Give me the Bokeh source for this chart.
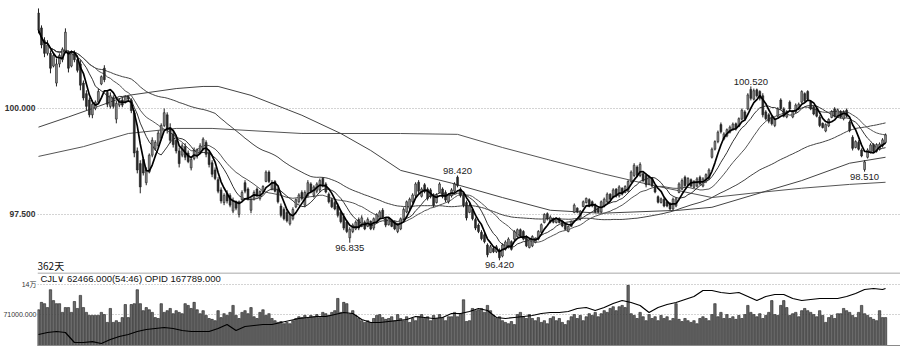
import numpy as np
import pandas as pd
from bokeh.plotting import figure
from bokeh.layouts import column
from bokeh.models import Range1d, FixedTicker, Span, PrintfTickFormatter
from bokeh.embed import file_html
from bokeh.resources import INLINE
from bokeh.core.properties import value

# ---------------- data ----------------
high = [
    102.36, 101.96, 101.68, 101.61, 101.37, 101.30, 101.18, 101.30, 101.44, 101.89,
    101.37, 101.37, 101.37, 101.25, 101.14, 100.66, 100.43, 100.26, 100.19, 100.19,
    100.47, 100.78, 101.02, 100.43, 100.38, 100.31, 100.19, 100.24, 100.26, 100.31,
    100.31, 100.24, 99.96, 99.08, 98.78, 98.85, 98.61, 98.94, 99.32, 99.25,
    99.48, 99.65, 100.00, 99.91, 99.65, 99.48, 99.32, 99.08, 99.18, 99.18,
    99.01, 98.85, 99.08, 99.06, 99.18, 99.32, 99.25, 99.01, 98.78, 98.61,
    98.38, 98.14, 98.00, 98.07, 98.00, 97.90, 97.83, 97.83, 98.07, 98.31,
    98.14, 97.90, 98.07, 98.14, 98.07, 98.19, 98.54, 98.54, 98.31, 98.31,
    98.14, 97.76, 97.67, 97.60, 97.53, 97.67, 97.88, 98.00, 98.07, 98.07,
    98.31, 98.26, 98.19, 98.26, 98.35, 98.38, 98.26, 98.02, 97.90, 97.83,
    97.76, 97.60, 97.53, 97.36, 97.20, 97.29, 97.36, 97.43, 97.48, 97.36,
    97.43, 97.36, 97.43, 97.53, 97.60, 97.65, 97.43, 97.43, 97.36, 97.36,
    97.29, 97.43, 97.67, 97.83, 97.90, 98.00, 98.26, 98.31, 98.14, 98.24,
    98.14, 98.12, 98.00, 98.00, 98.26, 98.14, 98.07, 98.00, 98.12, 98.26,
    98.42, 98.14, 98.00, 97.83, 97.76, 97.67, 97.43, 97.29, 97.13, 97.06,
    96.82, 96.78, 96.73, 96.78, 96.70, 96.82, 96.89, 96.96, 96.89, 97.13,
    97.17, 97.17, 97.13, 97.01, 96.94, 97.01, 96.96, 97.13, 97.29, 97.53,
    97.55, 97.48, 97.43, 97.43, 97.43, 97.36, 97.29, 97.24, 97.36, 97.76,
    97.67, 97.60, 97.83, 97.90, 97.88, 97.83, 97.76, 97.67, 97.83, 97.90,
    98.02, 98.00, 98.12, 98.12, 98.19, 98.14, 98.19, 98.31, 98.54, 98.71,
    98.66, 98.73, 98.50, 98.47, 98.42, 98.38, 98.19, 97.95, 97.90, 97.90,
    97.83, 97.79, 97.90, 97.90, 98.26, 98.35, 98.42, 98.38, 98.35, 98.31,
    98.38, 98.42, 98.38, 98.47, 98.59, 99.08, 99.25, 99.48, 99.67, 99.44,
    99.53, 99.60, 99.67, 99.67, 99.79, 100.00, 99.96, 100.36, 100.52, 100.47,
    100.47, 100.43, 100.36, 99.96, 99.89, 99.84, 99.79, 100.03, 100.24, 100.03,
    99.96, 100.19, 99.96, 100.12, 100.14, 100.43, 100.38, 100.43, 100.19, 100.07,
    100.03, 99.84, 99.67, 99.65, 99.77, 99.96, 100.03, 100.00, 99.96, 99.96,
    100.00, 99.72, 99.37, 99.25, 99.25, 99.06, 98.78, 99.06, 99.18, 99.18,
    99.18, 99.20, 99.30, 99.41,
]
low = [
    101.77, 101.42, 101.21, 101.25, 100.83, 100.97, 100.52, 100.97, 101.09, 101.30,
    100.85, 100.97, 101.09, 100.85, 100.43, 100.19, 99.96, 99.79, 99.77, 99.96,
    100.12, 100.55, 100.62, 100.03, 100.00, 100.00, 99.65, 100.03, 100.03, 100.12,
    100.19, 99.89, 98.85, 98.47, 98.00, 98.42, 98.19, 98.47, 98.85, 99.01,
    99.08, 99.25, 99.56, 99.41, 99.18, 99.08, 98.94, 98.61, 98.85, 98.78,
    98.71, 98.54, 98.78, 98.82, 98.94, 99.01, 98.85, 98.61, 98.38, 98.31,
    98.00, 97.76, 97.72, 97.76, 97.67, 97.53, 97.60, 97.43, 97.83, 98.00,
    97.83, 97.53, 97.83, 97.90, 97.83, 98.00, 98.26, 98.24, 98.07, 98.02,
    97.76, 97.43, 97.36, 97.31, 97.24, 97.36, 97.65, 97.76, 97.83, 97.67,
    97.90, 98.00, 97.90, 98.00, 98.02, 98.14, 98.00, 97.76, 97.65, 97.60,
    97.43, 97.29, 97.13, 97.06, 96.835, 97.06, 97.13, 97.13, 97.20, 97.13,
    97.20, 97.13, 97.13, 97.29, 97.36, 97.41, 97.20, 97.24, 97.20, 97.13,
    97.06, 97.13, 97.36, 97.53, 97.60, 97.76, 97.90, 98.00, 97.90, 98.00,
    97.83, 97.88, 97.67, 97.76, 98.00, 97.88, 97.79, 97.76, 97.90, 98.02,
    98.14, 97.90, 97.67, 97.36, 97.53, 97.36, 97.13, 97.06, 96.89, 96.82,
    96.49, 96.59, 96.59, 96.59, 96.42, 96.49, 96.65, 96.70, 96.65, 96.89,
    96.96, 96.96, 96.89, 96.73, 96.70, 96.73, 96.82, 96.89, 97.06, 97.29,
    97.36, 97.29, 97.29, 97.29, 97.29, 97.20, 97.13, 97.08, 97.20, 97.53,
    97.53, 97.36, 97.67, 97.76, 97.67, 97.67, 97.53, 97.53, 97.53, 97.67,
    97.76, 97.83, 97.88, 97.90, 97.90, 97.95, 98.00, 98.02, 98.24, 98.38,
    98.38, 98.38, 98.26, 98.14, 98.19, 98.14, 98.00, 97.76, 97.76, 97.67,
    97.67, 97.60, 97.60, 97.67, 98.00, 98.07, 98.14, 98.19, 98.14, 98.12,
    98.14, 98.19, 98.14, 98.24, 98.31, 98.82, 99.01, 99.18, 99.41, 99.25,
    99.32, 99.41, 99.48, 99.48, 99.56, 99.72, 99.72, 99.96, 100.19, 100.19,
    100.26, 100.19, 99.79, 99.72, 99.65, 99.60, 99.56, 99.79, 99.96, 99.79,
    99.77, 99.96, 99.77, 99.89, 99.96, 100.12, 100.14, 100.19, 99.96, 99.84,
    99.79, 99.56, 99.53, 99.44, 99.56, 99.77, 99.79, 99.79, 99.77, 99.72,
    99.79, 99.44, 99.01, 99.06, 99.01, 98.85, 98.51, 98.82, 98.94, 98.96,
    98.96, 99.01, 99.08, 99.18,
]
open_ = [
    102.25, 101.90, 101.60, 101.30, 101.30, 101.00, 100.60, 101.05, 101.15, 101.35,
    101.30, 101.00, 101.30, 101.15, 101.05, 100.60, 100.35, 100.20, 99.85, 100.00,
    100.15, 100.58, 100.95, 100.38, 100.05, 100.25, 99.75, 100.08, 100.20, 100.15,
    100.28, 100.20, 99.90, 99.00, 98.70, 98.80, 98.25, 98.50, 98.90, 99.05,
    99.12, 99.30, 99.60, 99.85, 99.55, 99.40, 99.25, 99.00, 98.90, 99.10,
    98.95, 98.60, 98.82, 98.88, 98.98, 99.05, 99.20, 98.95, 98.72, 98.55,
    98.32, 98.08, 97.78, 98.00, 97.95, 97.58, 97.80, 97.50, 97.85, 98.25,
    98.10, 97.60, 97.86, 98.10, 97.88, 98.03, 98.28, 98.50, 98.10, 98.28,
    98.08, 97.70, 97.62, 97.55, 97.28, 97.40, 97.68, 97.80, 98.02, 97.72,
    97.95, 98.22, 97.95, 98.05, 98.08, 98.35, 98.22, 97.98, 97.85, 97.78,
    97.70, 97.55, 97.45, 97.32, 96.95, 97.10, 97.16, 97.38, 97.22, 97.32,
    97.22, 97.34, 97.18, 97.32, 97.40, 97.60, 97.40, 97.26, 97.34, 97.32,
    97.10, 97.16, 97.40, 97.56, 97.65, 97.80, 97.95, 98.26, 97.93, 98.20,
    98.10, 98.08, 97.95, 97.78, 98.02, 98.10, 98.02, 97.80, 97.94, 98.05,
    98.38, 98.10, 97.96, 97.78, 97.55, 97.62, 97.38, 97.25, 97.08, 97.02,
    96.78, 96.60, 96.70, 96.62, 96.66, 96.52, 96.68, 96.72, 96.86, 96.92,
    96.98, 97.14, 97.10, 96.98, 96.72, 96.76, 96.84, 96.92, 97.08, 97.31,
    97.52, 97.32, 97.40, 97.31, 97.41, 97.34, 97.27, 97.10, 97.22, 97.55,
    97.65, 97.40, 97.69, 97.78, 97.85, 97.80, 97.72, 97.65, 97.56, 97.70,
    97.80, 97.98, 97.90, 98.10, 97.94, 98.12, 98.02, 98.05, 98.28, 98.42,
    98.62, 98.42, 98.46, 98.42, 98.22, 98.35, 98.16, 97.92, 97.78, 97.86,
    97.80, 97.76, 97.63, 97.70, 98.02, 98.10, 98.38, 98.21, 98.32, 98.14,
    98.17, 98.38, 98.17, 98.27, 98.34, 98.85, 99.04, 99.22, 99.62, 99.28,
    99.35, 99.44, 99.50, 99.64, 99.58, 99.75, 99.92, 99.99, 100.45, 100.22,
    100.44, 100.40, 100.30, 99.92, 99.85, 99.80, 99.60, 99.82, 100.20, 99.99,
    99.80, 100.15, 99.80, 99.92, 99.99, 100.15, 100.35, 100.40, 100.16, 100.04,
    100.00, 99.80, 99.65, 99.47, 99.59, 99.79, 99.99, 99.82, 99.93, 99.76,
    99.96, 99.68, 99.32, 99.08, 99.20, 99.02, 98.56, 98.85, 98.97, 99.15,
    98.99, 99.04, 99.12, 99.20,
]
close = [
    101.85, 101.50, 101.30, 101.50, 100.95, 101.25, 101.05, 101.25, 101.40, 101.80,
    100.95, 101.30, 101.15, 100.90, 100.55, 100.25, 100.05, 99.85, 100.10, 100.15,
    100.40, 100.75, 100.68, 100.10, 100.30, 100.05, 100.12, 100.20, 100.08, 100.28,
    100.22, 99.95, 98.95, 98.55, 98.15, 98.48, 98.55, 98.90, 99.25, 99.20,
    99.42, 99.60, 99.90, 99.50, 99.25, 99.15, 99.00, 98.70, 99.12, 98.85,
    98.75, 98.80, 99.00, 99.02, 99.12, 99.28, 98.92, 98.68, 98.45, 98.35,
    98.05, 97.82, 97.95, 97.82, 97.72, 97.82, 97.65, 97.80, 98.02, 98.05,
    97.88, 97.85, 98.02, 97.95, 98.04, 98.16, 98.50, 98.28, 98.25, 98.05,
    97.80, 97.48, 97.40, 97.35, 97.50, 97.62, 97.85, 97.96, 97.88, 98.02,
    98.25, 98.05, 98.15, 98.22, 98.30, 98.18, 98.03, 97.80, 97.68, 97.63,
    97.48, 97.33, 97.18, 97.10, 97.15, 97.25, 97.32, 97.18, 97.42, 97.16,
    97.38, 97.16, 97.40, 97.50, 97.56, 97.44, 97.25, 97.40, 97.22, 97.16,
    97.25, 97.40, 97.62, 97.80, 97.86, 97.96, 98.22, 98.05, 98.10, 98.04,
    97.88, 97.92, 97.72, 97.96, 98.22, 97.92, 97.84, 97.96, 98.08, 98.22,
    98.18, 97.94, 97.72, 97.42, 97.70, 97.40, 97.18, 97.10, 96.93, 96.86,
    96.55, 96.74, 96.62, 96.74, 96.48, 96.78, 96.85, 96.92, 96.68, 97.10,
    97.14, 96.99, 96.92, 96.76, 96.90, 96.98, 96.94, 97.10, 97.26, 97.50,
    97.40, 97.44, 97.32, 97.41, 97.31, 97.23, 97.15, 97.22, 97.34, 97.72,
    97.56, 97.58, 97.80, 97.88, 97.70, 97.70, 97.56, 97.56, 97.80, 97.86,
    97.98, 97.86, 98.08, 97.94, 98.15, 97.98, 98.16, 98.28, 98.50, 98.66,
    98.42, 98.68, 98.30, 98.20, 98.38, 98.17, 98.03, 97.79, 97.87, 97.70,
    97.70, 97.63, 97.86, 97.87, 98.22, 98.30, 98.18, 98.35, 98.17, 98.28,
    98.34, 98.22, 98.34, 98.44, 98.55, 99.04, 99.22, 99.44, 99.45, 99.40,
    99.50, 99.56, 99.63, 99.52, 99.76, 99.96, 99.76, 100.32, 100.24, 100.42,
    100.30, 100.24, 99.85, 99.76, 99.70, 99.64, 99.75, 99.99, 100.00, 99.82,
    99.93, 99.99, 99.93, 100.08, 100.10, 100.40, 100.18, 100.22, 99.99, 99.87,
    99.82, 99.60, 99.55, 99.62, 99.74, 99.93, 99.82, 99.97, 99.80, 99.92,
    99.82, 99.48, 99.06, 99.22, 99.04, 98.88, 98.74, 99.02, 99.14, 98.99,
    99.15, 99.16, 99.26, 99.38,
]
# volume (CJL), in thousands of lots
volume_k = [
    82, 99, 96, 87, 128, 103, 96, 96, 76, 87,
    87, 76, 101, 85, 115, 87, 76, 69, 69, 69,
    69, 76, 71, 53, 85, 53, 57, 53, 64, 94,
    64, 94, 96, 128, 96, 80, 87, 82, 76, 64,
    62, 96, 76, 80, 85, 73, 80, 76, 73, 96,
    92, 85, 99, 82, 73, 80, 69, 62, 60, 57,
    80, 64, 73, 69, 76, 92, 69, 62, 76, 80,
    73, 87, 66, 62, 76, 82, 69, 73, 62, 57,
    53, 55, 50, 53, 50, 57, 62, 66, 64, 69,
    62, 69, 66, 71, 64, 76, 73, 69, 76, 80,
    108, 76, 99, 96, 73, 80, 69, 62, 57, 53,
    57, 53, 62, 69, 71, 64, 60, 62, 66, 57,
    71, 62, 57, 66, 53, 62, 57, 66, 71, 62,
    66, 57, 69, 62, 71, 64, 57, 66, 66, 76,
    66, 73, 105, 55, 57, 85, 80, 82, 85, 76,
    92, 80, 69, 62, 66, 57, 53, 50, 55, 48,
    71, 76, 66, 62, 71, 62, 57, 64, 53, 57,
    50, 62, 66, 57, 62, 53, 48, 57, 66, 71,
    62, 69, 57, 66, 73, 69, 76, 66, 73, 80,
    76, 85, 89, 80, 89, 92, 87, 138, 73, 69,
    62, 76, 66, 57, 71, 62, 66, 57, 69, 62,
    66, 57, 62, 96, 60, 55, 62, 57, 53, 57,
    50, 62, 66, 62, 57, 71, 96, 66, 76, 62,
    71, 62, 66, 60, 69, 62, 71, 92, 76, 71,
    66, 73, 62, 69, 76, 103, 71, 69, 92, 103,
    87, 69, 73, 76, 66, 80, 85, 80, 76, 71,
    66, 80, 69, 53, 64, 69, 62, 73, 73, 85,
    80, 76, 69, 64, 76, 92, 73, 69, 64, 60,
    57, 80, 64, 64,
]
# open interest (OPID), thousands, every third session
opid_idx = list(range(0, 284, 3)) + [283]
opid_k = [
    112.6, 115.0, 116.2, 115.0, 103.0, 103.0, 104.0, 101.8, 106.6, 110.2,
    112.6, 116.2, 118.6, 119.8, 121.0, 119.8, 117.4, 116.2, 116.2, 116.2,
    119.8, 124.6, 117.4, 122.2, 123.4, 124.6, 124.6, 127.0, 129.4, 131.8,
    133.0, 134.2, 134.2, 136.6, 139.0, 137.8, 130.6, 127.0, 127.0, 128.2,
    129.4, 130.6, 134.2, 133.0, 131.8, 133.0, 137.8, 137.8, 140.2, 143.8,
    141.4, 133.0, 131.8, 133.0, 134.2, 135.4, 137.8, 139.0, 139.0, 140.2,
    143.8, 145.0, 141.4, 145.0, 149.8, 153.4, 151.0, 147.4, 139.0, 145.0,
    148.6, 151.0, 154.6, 158.2, 165.4, 165.4, 163.0, 161.8, 163.0, 158.2,
    153.4, 158.2, 160.6, 160.6, 155.8, 153.4, 154.6, 155.8, 155.8, 155.8,
    158.2, 161.8, 166.6, 167.8, 166.6, 167.789,
]
# long moving averages, read at sample sessions
ma120_idx = [0, 10, 20, 30, 46, 55, 60, 71, 88, 101, 111, 121, 138, 155, 171, 188, 214, 225, 244, 255, 271, 283]
ma120 = [99.56, 99.80, 100.05, 100.31, 100.47, 100.52, 100.52, 100.31, 99.84, 99.41, 99.01,
         98.54, 98.24, 97.90, 97.60, 97.53, 97.60, 97.67, 98.07, 98.30, 98.71, 98.85]
ma250_idx = [0, 15, 30, 46, 58, 88, 121, 140, 155, 171, 188, 205, 225, 238, 255, 271, 283]
ma250 = [98.87, 99.10, 99.41, 99.53, 99.53, 99.41, 99.41, 99.39, 99.08, 98.78, 98.47,
         98.19, 97.90, 98.00, 98.12, 98.21, 98.26]

price_ticks = [97.5, 100.0]
vol_ticks = [71000, 140000]
vol_tick_labels = {71000: "71000.000", 140000: "14万"}
mark_idx = [238, 140, 104, 154, 276]
mark_val = [100.52, 98.42, 96.835, 96.42, 98.51]
mark_side = ["above", "above", "below", "below", "below"]
period_label = "362天"
header_label = "CJL∨  62466.000(54:46)   OPID 167789.000"

# ---------------- derived ----------------
N = len(close)
idx = np.arange(N)
o = np.array(open_)
c = np.array(close)
cs = pd.Series(c)
ma5 = cs.rolling(5, min_periods=1).mean()
ma10 = cs.rolling(10, min_periods=1).mean()
ma20 = cs.rolling(20, min_periods=1).mean()
ma60 = cs.rolling(60, min_periods=1).mean()
up = c >= o
body_top = np.maximum(o, c)
body_bot = np.minimum(o, c)
body_col = np.where(up, "#8c8c8c", "#2a2a2a")

xr = Range1d(-1.0 / 3.0, 288)


def style_yaxis(ax, font, size, bold):
    ax.axis_line_color = None
    ax.major_tick_line_color = None
    ax.minor_tick_line_color = None
    ax.major_tick_out = 0
    ax.major_tick_in = 0
    ax.minor_tick_out = 0
    ax.minor_tick_in = 0
    ax.major_label_standoff = 2
    ax.major_label_text_font = font
    ax.major_label_text_font_size = size
    ax.major_label_text_font_style = "bold" if bold else "normal"
    ax.major_label_text_color = "#333333"


# ---------------- price panel ----------------
p1 = figure(width=900, height=272, x_range=xr, y_range=Range1d(96.132, 102.547),
            output_backend="svg", toolbar_location=None,
            min_border_left=35, min_border_right=0, min_border_top=0, min_border_bottom=0)
p1.xaxis.visible = False
p1.xgrid.visible = False
p1.outline_line_color = None
p1.background_fill_color = "white"
p1.border_fill_color = "white"
p1.yaxis.ticker = FixedTicker(ticks=price_ticks)
p1.yaxis.formatter = PrintfTickFormatter(format="%.3f")
style_yaxis(p1.yaxis[0], "Liberation Sans", "8.5px", True)
p1.ygrid.ticker = FixedTicker(ticks=price_ticks)
p1.ygrid.grid_line_color = "#a8a8a8"
p1.ygrid.grid_line_dash = "1 2"
p1.ygrid.grid_line_width = 1

p1.line(ma250_idx, ma250, line_color="#555555", line_width=1)
p1.line(ma120_idx, ma120, line_color="#444444", line_width=1)
p1.line(idx, ma60, line_color="#444444", line_width=1)
p1.line(idx, ma20, line_color="#555555", line_width=1)
p1.line(idx, ma10, line_color="#333333", line_width=1)

p1.segment(x0=idx, y0=high, x1=idx, y1=low, line_color="#202020", line_width=1)
p1.vbar(x=idx, width=0.62, top=body_top, bottom=body_bot, fill_color=body_col,
        line_color="#202020", line_width=0.6)
p1.line(idx, ma5, line_color="#000000", line_width=1.7)

above = [i for i, s in enumerate(mark_side) if s == "above"]
below = [i for i, s in enumerate(mark_side) if s == "below"]
p1.text(x=[mark_idx[i] for i in above], y=[mark_val[i] for i in above],
        text=["%.3f" % mark_val[i] for i in above], text_align="center",
        text_baseline="bottom", y_offset=-1, text_color="#222222",
        text_font=value("Liberation Sans"), text_font_size=value("9.5px"))
p1.text(x=[mark_idx[i] for i in below], y=[mark_val[i] for i in below],
        text=["%.3f" % mark_val[i] for i in below], text_align="center",
        text_baseline="top", y_offset=2, text_color="#222222",
        text_font=value("Liberation Sans"), text_font_size=value("9.5px"))
p1.text(x=[-1.0 / 3.0], y=[96.30], text=[period_label], text_align="left",
        text_baseline="middle", text_color="#111111",
        text_font=value("Noto Sans CJK SC"), text_font_size=value("10px"))

# ---------------- volume panel ----------------
vol = np.array(volume_k) * 1000.0
p2 = figure(width=900, height=75, x_range=xr, y_range=Range1d(-4590, 167535),
            output_backend="svg", toolbar_location=None,
            min_border_left=35, min_border_right=0, min_border_top=0, min_border_bottom=0)
p2.xaxis.visible = False
p2.xgrid.visible = False
p2.outline_line_color = None
p2.background_fill_color = "white"
p2.border_fill_color = "white"
p2.yaxis.ticker = FixedTicker(ticks=vol_ticks)
p2.yaxis.major_label_overrides = vol_tick_labels
style_yaxis(p2.yaxis[0], "Liberation Sans, Noto Sans CJK SC", "7px", False)
p2.yaxis[0].major_label_standoff = 1
p2.ygrid.ticker = FixedTicker(ticks=vol_ticks)
p2.ygrid.grid_line_color = "#a8a8a8"
p2.ygrid.grid_line_dash = "1 2"

p2.extra_y_ranges = {"opid": Range1d(96.989, 186.989)}
p2.vbar(x=idx, width=0.8, top=vol, bottom=0, fill_color="#6a6a6a",
        line_color="#1e1e1e", line_width=0.6)
p2.line(opid_idx, opid_k, y_range_name="opid", line_color="#000000", line_width=1.2)
p2.add_layout(Span(location=166400, dimension="width", line_color="#8a8a8a", line_width=1))
p2.add_layout(Span(location=0, dimension="width", line_color="#8a8a8a", line_width=1))
p2.text(x=[0.67], y=[153765], text=[header_label], text_align="left",
        text_baseline="middle", text_color="#111111",
        text_font=value("Liberation Sans"), text_font_size=value("9.5px"))

layout = column(p1, p2, spacing=0)
open("out.html", "w").write(file_html(layout, INLINE))
